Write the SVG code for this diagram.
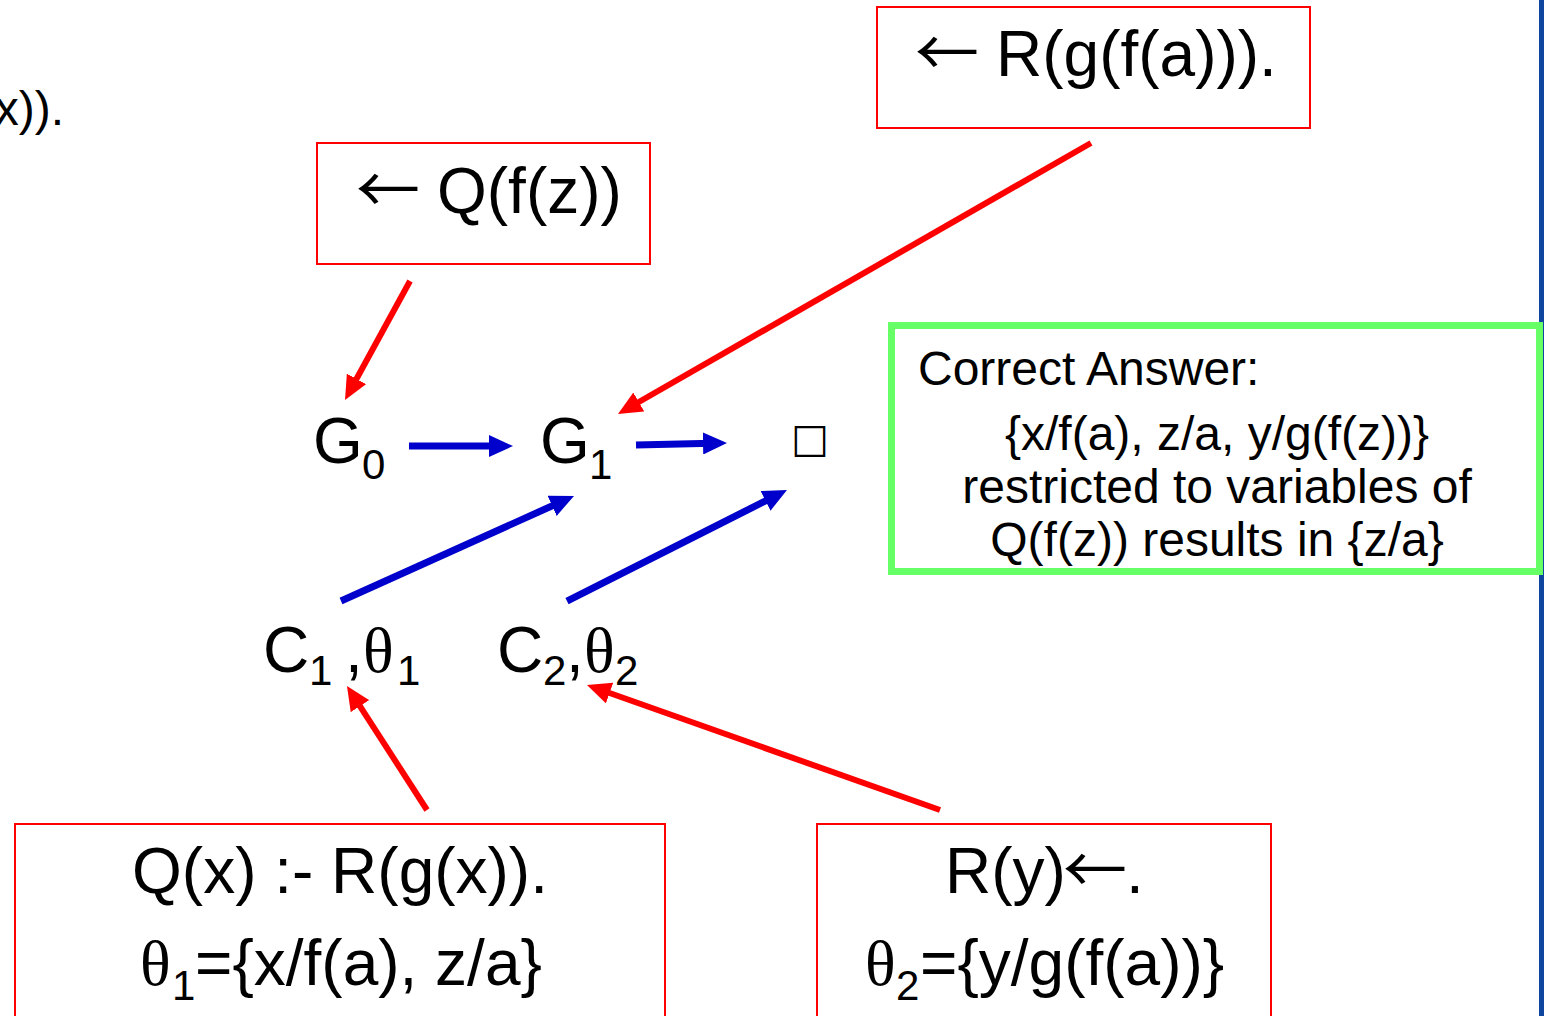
<svg xmlns="http://www.w3.org/2000/svg" width="1544" height="1016" viewBox="0 0 1544 1016">
<style>
text{font-family:"Liberation Sans",Arial,sans-serif;fill:#000;font-size:64px}
.sub{font-size:42px}
.gr{font-family:"Liberation Serif","Times New Roman",serif}
.arr{font-family:"Noto Sans CJK JP","Noto Sans CJK SC","DejaVu Sans",sans-serif}
.box{fill:#fff;stroke:#ff0000;stroke-width:2}
.ans{font-size:48px}
.blue{stroke:#0000cc;stroke-width:7;fill:none}
.red{stroke:#ff0000;stroke-width:6;fill:none}
</style>
<defs>
<marker id="hb" viewBox="0 0 24 22" refX="9" refY="11" markerWidth="24" markerHeight="22" orient="auto" markerUnits="userSpaceOnUse"><path d="M0,0 L24,11 L0,22 z" fill="#0000cc"/></marker>
<marker id="hr" viewBox="0 0 24 22" refX="9" refY="11" markerWidth="24" markerHeight="22" orient="auto" markerUnits="userSpaceOnUse"><path d="M0,0 L24,11 L0,22 z" fill="#ff0000"/></marker>
</defs>
<rect width="1544" height="1016" fill="#fff"/>
<rect x="1539" y="0" width="5" height="1016" fill="#0d459f"/>
<text class="ans" x="64" y="125" text-anchor="end">x)).</text>

<g id="box-qfz"><rect class="box" x="317" y="143" width="333" height="121"/><text y="213"><tspan class="arr" x="356">←</tspan><tspan x="437">Q(f(z))</tspan></text></g>
<g id="box-rgfa"><rect class="box" x="877" y="7" width="433" height="121"/><text y="76"><tspan class="arr" x="915">←</tspan><tspan x="996">R(g(f(a))).</tspan></text></g>
<g id="box-answer"><rect x="891.5" y="325.5" width="648" height="246" fill="#fff" stroke="#66ff66" stroke-width="7"/>
<text class="ans" x="918" y="385">Correct Answer:</text>
<text class="ans" x="1217" y="450" text-anchor="middle">{x/f(a), z/a, y/g(f(z))}</text>
<text class="ans" x="1217" y="503" text-anchor="middle">restricted to variables of</text>
<text class="ans" x="1217" y="556" text-anchor="middle">Q(f(z)) results in {z/a}</text></g>
<g id="box-clause1"><rect class="box" x="15" y="824" width="650" height="210"/>
<text x="340" y="893" text-anchor="middle">Q(x) :- R(g(x)).</text>
<text x="140" y="985"><tspan class="gr">θ</tspan><tspan class="sub" x="172" dy="15">1</tspan><tspan x="195" dy="-15">={x/f(a), z/a}</tspan></text></g>
<g id="box-clause2"><rect class="box" x="817" y="824" width="454" height="210"/>
<text y="893"><tspan x="945">R(y)</tspan><tspan class="arr" x="1063">←</tspan><tspan x="1126">.</tspan></text>
<text x="865" y="985"><tspan class="gr">θ</tspan><tspan class="sub" x="896" dy="15">2</tspan><tspan x="920" dy="-15">={y/g(f(a))}</tspan></text></g>

<g id="node-g0"><text x="313" y="463">G<tspan class="sub" x="362" dy="16">0</tspan></text></g>
<g id="node-g1"><text x="540" y="463">G<tspan class="sub" x="589" dy="16">1</tspan></text></g>
<g id="node-empty"><text x="810" y="452" text-anchor="middle" style="font-family:'DejaVu Sans',sans-serif;font-size:40px">□</text></g>
<g id="node-c1"><text x="263" y="672">C<tspan class="sub" x="309" dy="13">1</tspan><tspan x="345" dy="-13">,</tspan><tspan class="gr" x="363">θ</tspan><tspan class="sub" x="397" dy="13">1</tspan></text></g>
<g id="node-c2"><text x="497" y="672">C<tspan class="sub" x="543" dy="13">2</tspan><tspan x="566" dy="-13">,</tspan><tspan class="gr" x="584">θ</tspan><tspan class="sub" x="615" dy="13">2</tspan></text></g>

<g id="connectors">
<line class="blue" x1="409" y1="446" x2="498" y2="446" marker-end="url(#hb)"/>
<line class="blue" x1="636" y1="445" x2="712" y2="443.3" marker-end="url(#hb)"/>
<line class="blue" x1="341" y1="601" x2="560.3" y2="502.2" marker-end="url(#hb)"/>
<line class="blue" x1="567" y1="601" x2="773.6" y2="496.8" marker-end="url(#hb)"/>
<line class="red" x1="410" y1="281" x2="352.2" y2="386.8" marker-end="url(#hr)"/>
<line class="red" x1="1091" y1="143" x2="631" y2="406.5" marker-end="url(#hr)"/>
<line class="red" x1="427" y1="810" x2="355.1" y2="698.6" marker-end="url(#hr)"/>
<line class="red" x1="940" y1="810" x2="601.1" y2="690" marker-end="url(#hr)"/>
</g>
</svg>
